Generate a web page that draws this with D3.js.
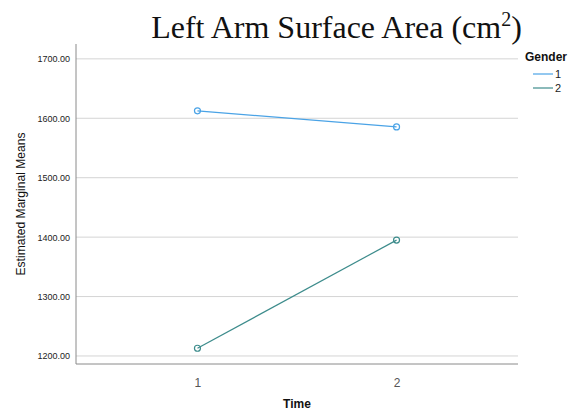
<!DOCTYPE html>
<html><head><meta charset="utf-8">
<script src="https://cdn.jsdelivr.net/npm/d3@7"></script>
<style>body{margin:0;background:#fff}svg{display:block}</style>
</head><body>
<script>
const times = ["1", "2"];
const genders = ["1", "2"];
const gender1 = [1612.5, 1585.5];
const gender2 = [1213.0, 1395.0];
const yTicks = [1200, 1300, 1400, 1500, 1600, 1700];
const colors = ["#4aa3e6", "#3d8c8c"];

(function () {
const W = 580, H = 419;
const svg = d3.select("body").append("svg").attr("width", W).attr("height", H);
const pL = 76, pR = 518, pT = 44, pB = 364;

const x = d3.scalePoint().domain(times).range([pL, pR]).padding(0.61);
const y = d3.scaleLinear().domain([1186.5, 1725]).range([pB, pT]);

// gridlines
svg.append("g").selectAll("line").data(yTicks).join("line")
  .attr("x1", pL).attr("x2", pR)
  .attr("y1", d => y(d)).attr("y2", d => y(d))
  .attr("stroke", "#d4d4d4").attr("stroke-width", 1);

// y axis
const yAxis = d3.axisLeft(y).tickValues(yTicks).tickFormat(d3.format(".2f")).tickSize(0).tickPadding(6);
const gy = svg.append("g").attr("transform", `translate(${pL},0)`).call(yAxis);
gy.select(".domain").remove();
gy.selectAll("text").attr("font-family", "Liberation Sans, Arial, sans-serif").attr("font-size", 9).attr("fill", "#222");
svg.append("line").attr("x1", pL).attr("x2", pL).attr("y1", pT).attr("y2", pB).attr("stroke", "#8a8a8a");

// x axis
const xAxis = d3.axisBottom(x).tickSize(0).tickPadding(14);
const gx = svg.append("g").attr("transform", `translate(0,${pB})`).call(xAxis);
gx.select(".domain").remove();
gx.selectAll("text").attr("font-family", "Liberation Sans, Arial, sans-serif").attr("font-size", 12).attr("fill", "#555");
svg.append("line").attr("x1", pL).attr("x2", pR).attr("y1", pB).attr("y2", pB).attr("stroke", "#8a8a8a");

// series
const series = [gender1, gender2];
const line = d3.line().x((d, i) => x(times[i])).y(d => y(d));
series.forEach((s, k) => {
  svg.append("path").datum(s).attr("d", line).attr("fill", "none")
    .attr("stroke", colors[k]).attr("stroke-width", 1.2);
  svg.append("g").selectAll("circle").data(s).join("circle")
    .attr("cx", (d, i) => x(times[i])).attr("cy", d => y(d)).attr("r", 3)
    .attr("fill", "none").attr("stroke", colors[k]).attr("stroke-width", 1.2);
});

// title
const t = svg.append("text").attr("x", 336.5).attr("y", 38).attr("text-anchor", "middle")
  .attr("font-family", "Liberation Serif, Times New Roman, serif").attr("font-size", 32).attr("fill", "#111");
t.append("tspan").text("Left Arm Surface Area (cm");
t.append("tspan").attr("dy", -12).attr("font-size", 20).text("2");
t.append("tspan").attr("dy", 12).text(")");

// axis titles
svg.append("text").attr("transform", `translate(25,${(pT + pB) / 2}) rotate(-90)`)
  .attr("text-anchor", "middle").attr("font-family", "Liberation Sans, Arial, sans-serif")
  .attr("font-size", 12).attr("fill", "#111").attr("textLength", 143).attr("lengthAdjust", "spacingAndGlyphs")
  .text("Estimated Marginal Means");
svg.append("text").attr("x", (pL + pR) / 2).attr("y", 408)
  .attr("text-anchor", "middle").attr("font-family", "Liberation Sans, Arial, sans-serif")
  .attr("font-size", 12).attr("font-weight", "bold").attr("fill", "#111").text("Time");

// legend
svg.append("text").attr("x", 525).attr("y", 61).attr("font-family", "Liberation Sans, Arial, sans-serif")
  .attr("font-size", 12).attr("font-weight", "bold").attr("fill", "#111").text("Gender");
genders.forEach((g, k) => {
  const yy = 74 + k * 14;
  svg.append("line").attr("x1", 533).attr("x2", 553).attr("y1", yy).attr("y2", yy)
    .attr("stroke", colors[k]).attr("stroke-width", 1.2);
  svg.append("text").attr("x", 555).attr("y", yy + 4).attr("font-family", "Liberation Sans, Arial, sans-serif")
    .attr("font-size", 11).attr("fill", "#222").text(g);
});
})();
</script>
</body></html>
